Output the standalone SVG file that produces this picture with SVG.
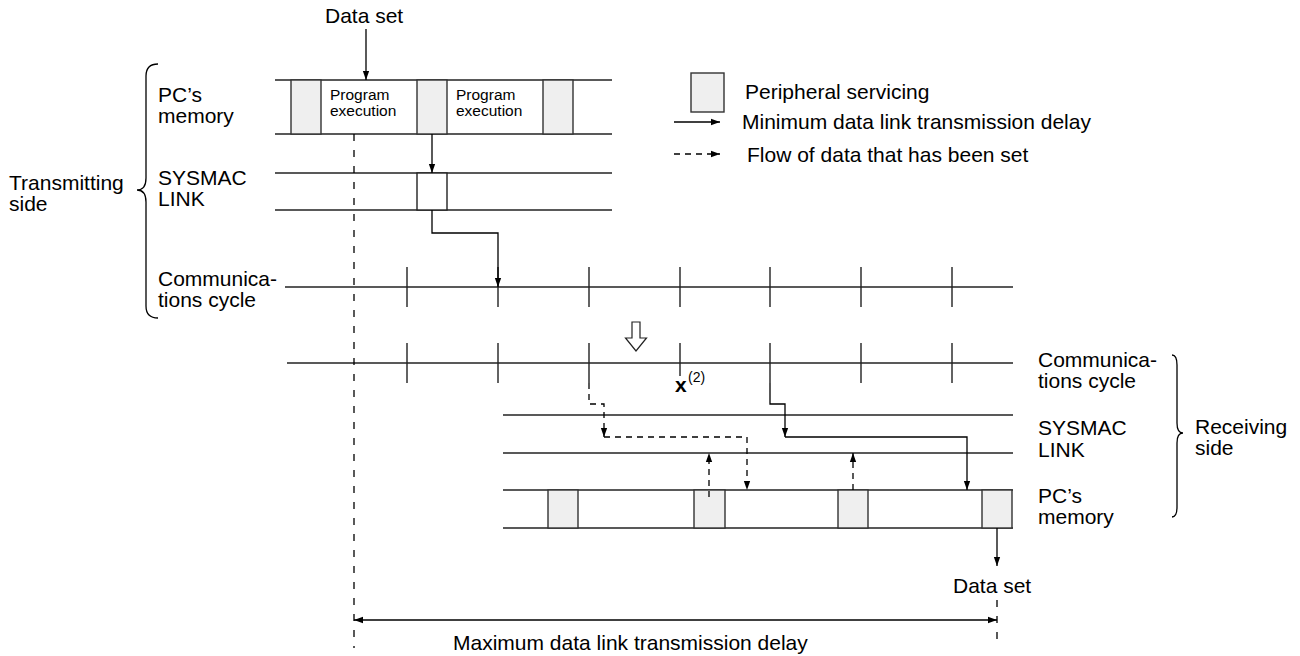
<svg xmlns="http://www.w3.org/2000/svg" width="1300" height="656" viewBox="0 0 1300 656">
<style>
text{font-family:"Liberation Sans",Arial,sans-serif;fill:#000}
.lbl{font-size:21px}
.sm{font-size:15.5px}
.ln{stroke:#222;stroke-width:1.4;fill:none}
.gb{fill:#efefef;stroke:#333;stroke-width:1.4}
.wb{fill:#fff;stroke:#222;stroke-width:1.4}
.sol{stroke:#000;stroke-width:1.3;fill:none}
.dsh{stroke:#000;stroke-width:1.3;fill:none;stroke-dasharray:6 5}
.vd{stroke:#000;stroke-width:1.3;fill:none;stroke-dasharray:7 9}
</style>
<defs>
<marker id="ah" viewBox="0 0 10 10" refX="10" refY="5" markerWidth="9" markerHeight="9" markerUnits="userSpaceOnUse" orient="auto-start-reverse"><path d="M0,1.5 L10,5 L0,8.5 z" fill="#000"/></marker>
</defs>

<g id="tx-pc-memory">
<line class="ln" x1="275" y1="80" x2="612" y2="80"/>
<line class="ln" x1="275" y1="134" x2="612" y2="134"/>
<rect class="gb" x="291" y="80" width="30" height="54"/>
<rect class="gb" x="417" y="80" width="30" height="54"/>
<rect class="gb" x="543" y="80" width="30" height="54"/>
<text class="sm" x="330" y="100">Program</text>
<text class="sm" x="330" y="115.5">execution</text>
<text class="sm" x="456" y="100">Program</text>
<text class="sm" x="456" y="115.5">execution</text>
<text class="lbl" x="158" y="102">PC’s</text>
<text class="lbl" x="158" y="123">memory</text>
</g>

<g id="tx-sysmac">
<line class="ln" x1="275" y1="173" x2="612" y2="173"/>
<line class="ln" x1="275" y1="210" x2="612" y2="210"/>
<rect class="wb" x="417" y="173" width="30" height="37"/>
<text class="lbl" x="158" y="185">SYSMAC</text>
<text class="lbl" x="158" y="206">LINK</text>
</g>

<g id="tx-comm">
<line class="ln" x1="285" y1="287" x2="1013" y2="287"/>
<path class="ln" d="M407,267V307M498,267V307M589,267V307M680,267V307M770,267V307M861,267V307M952,267V307"/>
<text class="lbl" x="158" y="286">Communica-</text>
<text class="lbl" x="158" y="307">tions cycle</text>
</g>

<g id="tx-side">
<path class="sol" d="M158,64 Q146,64 146,76 L146,178 Q146,190 137,190 Q146,190 146,202 L146,306 Q146,318 158,318"/>
<text class="lbl" x="9" y="190">Transmitting</text>
<text class="lbl" x="9" y="211">side</text>
</g>

<g id="transfer-arrow">
<path d="M632,322 H640 V338 H646.5 L636,351 L625.5,338 H632 Z" fill="#fff" stroke="#222" stroke-width="1.2"/>
</g>

<g id="rx-comm">
<line class="ln" x1="287" y1="363" x2="1013" y2="363"/>
<path class="ln" d="M407,343V383M498,343V383M589,343V383M680,343V376M770,343V383M861,343V383M952,343V383"/>
<text x="675" y="392" style="font-size:21px;font-weight:bold">x</text>
<text x="688" y="382" style="font-size:14px">(2)</text>
<text class="lbl" x="1038" y="367">Communica-</text>
<text class="lbl" x="1038" y="388">tions cycle</text>
</g>

<g id="rx-sysmac">
<line class="ln" x1="503" y1="415" x2="1013" y2="415"/>
<line class="ln" x1="503" y1="453" x2="1013" y2="453"/>
<text class="lbl" x="1038" y="435">SYSMAC</text>
<text class="lbl" x="1038" y="457">LINK</text>
</g>

<g id="rx-pc-memory">
<line class="ln" x1="503" y1="490" x2="1013" y2="490"/>
<line class="ln" x1="503" y1="528" x2="1013" y2="528"/>
<rect class="gb" x="548" y="490" width="30" height="38"/>
<rect class="gb" x="694" y="490" width="31" height="38"/>
<rect class="gb" x="838" y="490" width="30" height="38"/>
<rect class="gb" x="982" y="490" width="30" height="38"/>
<text class="lbl" x="1038" y="503">PC’s</text>
<text class="lbl" x="1038" y="524">memory</text>
</g>

<g id="rx-side">
<path class="sol" d="M1172,355 Q1177,355 1177,365 L1177,423 Q1177,433 1183,433 Q1177,433 1177,443 L1177,507 Q1177,517 1172,517"/>
<text class="lbl" x="1195" y="434">Receiving</text>
<text class="lbl" x="1195" y="455">side</text>
</g>

<g id="legend">
<rect class="gb" x="691" y="73" width="33" height="39"/>
<text class="lbl" x="745" y="99">Peripheral servicing</text>
<line class="sol" x1="674" y1="122" x2="720" y2="122" marker-end="url(#ah)"/>
<text class="lbl" x="742" y="129">Minimum data link transmission delay</text>
<line class="dsh" x1="674" y1="154" x2="720" y2="154" marker-end="url(#ah)"/>
<text class="lbl" x="747" y="162">Flow of data that has been set</text>
</g>

<g id="labels">
<text class="lbl" x="325" y="23">Data set</text>
<text class="lbl" x="953" y="593">Data set</text>
<text class="lbl" x="453" y="650">Maximum data link transmission delay</text>
</g>

<g id="connectors">
<line class="sol" x1="366" y1="29" x2="366" y2="80" marker-end="url(#ah)"/>
<line class="sol" x1="432" y1="134" x2="432" y2="173" marker-end="url(#ah)"/>
<path class="sol" d="M432,210 V233 H498 V287" marker-end="url(#ah)"/>
<path class="dsh" d="M589,383 V404 H604 V437" marker-end="url(#ah)"/>
<path class="dsh" d="M604,437 H747 V490" marker-end="url(#ah)"/>
<path class="sol" d="M770,383 V404 H785 V437" marker-end="url(#ah)"/>
<path class="sol" d="M785,437 H967 V490" marker-end="url(#ah)"/>
<line class="dsh" x1="709" y1="497" x2="709" y2="453" marker-end="url(#ah)"/>
<line class="dsh" x1="853" y1="490" x2="853" y2="453" marker-end="url(#ah)"/>
<line class="sol" x1="997" y1="528" x2="997" y2="566" marker-end="url(#ah)"/>
<line class="vd" x1="354" y1="134" x2="354" y2="648"/>
<line class="vd" x1="997" y1="600" x2="997" y2="648"/>
<line class="sol" x1="354" y1="620" x2="997" y2="620" marker-start="url(#ah)" marker-end="url(#ah)"/>
</g>
</svg>
